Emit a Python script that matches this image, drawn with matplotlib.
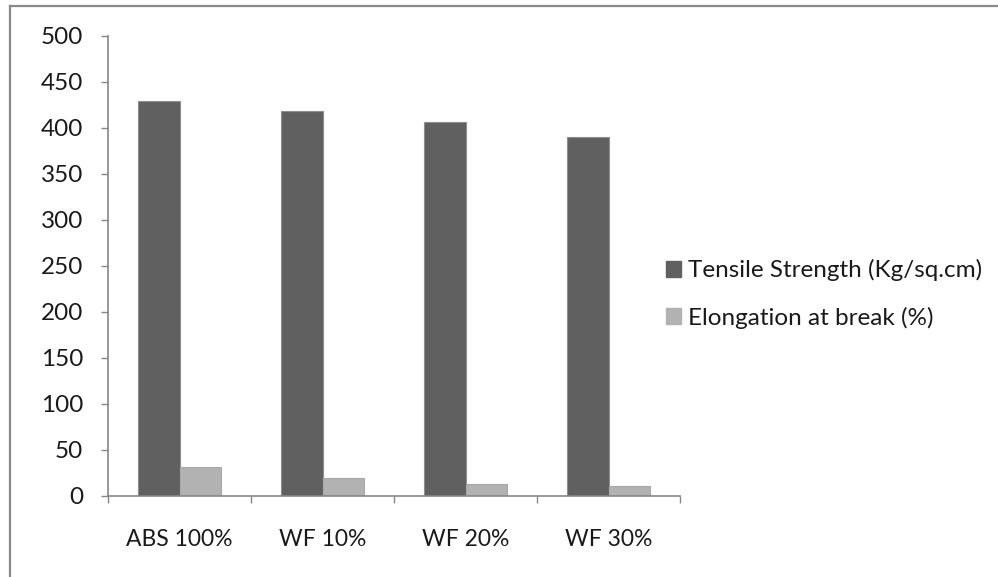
import matplotlib
matplotlib.use("Agg")
import matplotlib.pyplot as plt
from matplotlib.lines import Line2D
from matplotlib.patches import Patch
import numpy as np

categories = ["ABS 100%", "WF 10%", "WF 20%", "WF 30%"]
tensile = [429, 418, 407, 390]
elongation = [32, 20, 13, 11]
series_names = ["Tensile Strength (Kg/sq.cm)", "Elongation at break (%)"]
yticks = [0, 50, 100, 150, 200, 250, 300, 350, 400, 450, 500]

W, H = 998, 577
plt.rcParams['font.family'] = ['Lato', 'DejaVu Sans']
fig = plt.figure(figsize=(W / 100, H / 100), dpi=100)
ax = fig.add_axes([108 / W, 1 - 496 / H, (680 - 108) / W, (496 - 36) / H])

dark = "#606060"
light = "#b2b2b2"
edge = "#8e8e8e"
x = np.arange(len(categories))
bw = 0.287
ax.bar(x - bw / 2, tensile, bw, color=dark, edgecolor=edge, linewidth=0.8, zorder=2)
ax.bar(x + bw / 2, elongation, bw, color=light, edgecolor="#a8a8a8", linewidth=0.8, zorder=2)

ax.set_xlim(-0.5, len(categories) - 0.5)
ax.set_ylim(0, 500)
ax.set_yticks(yticks)
ax.set_yticklabels([str(v) for v in yticks])

ax.set_xticks(np.arange(len(categories) + 1) - 0.5)
ax.set_xticklabels([])
ax.set_xticks(x, minor=True)
ax.set_xticklabels(categories, minor=True)

spine_c = "#868686"
for s in ["top", "right"]:
    ax.spines[s].set_visible(False)
for s in ["left", "bottom"]:
    ax.spines[s].set_color(spine_c)
    ax.spines[s].set_linewidth(1.2)

txt_c = "#1a1a1a"
ax.tick_params(axis="y", which="major", direction="out", length=5, width=1.0, color=spine_c,
               labelsize=17.5, pad=13, labelcolor=txt_c)
ax.tick_params(axis="x", which="major", direction="out", length=5, width=1.0, color=spine_c)
ax.tick_params(axis="x", which="minor", length=0, labelsize=16.5, pad=24, labelcolor=txt_c)

handles = [Patch(facecolor=dark, edgecolor=dark), Patch(facecolor=light, edgecolor=light)]
fig.legend(handles, series_names, loc="center left", bbox_to_anchor=(666 / W, 1 - 294 / H),
           frameon=False, fontsize=17.5, handlelength=0.62, handleheight=0.62,
           handletextpad=0.3, labelspacing=1.05, borderaxespad=0, borderpad=0,
           labelcolor=txt_c)

# outer chart border (left and top visible)
bc = "#8a8a8a"
fig.add_artist(Line2D([10 / W, 10 / W], [0, 1 - 6 / H], color=bc, lw=1.6, transform=fig.transFigure))
fig.add_artist(Line2D([10 / W, 1], [1 - 6 / H, 1 - 6 / H], color=bc, lw=1.6, transform=fig.transFigure))

fig.savefig("out.png", dpi=100, facecolor="white")
